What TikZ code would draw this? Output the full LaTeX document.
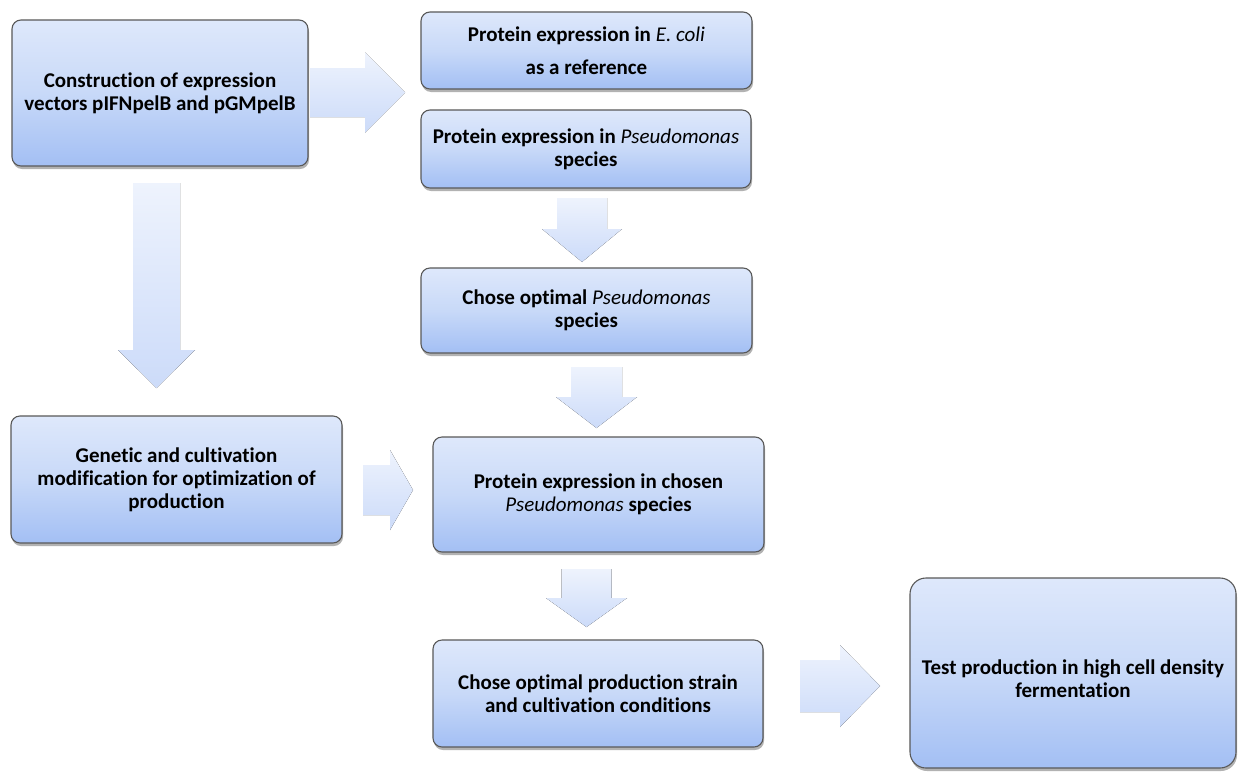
\documentclass[tikz,border=0pt]{standalone}
\usepackage{fontspec}
\setmainfont[Ligatures=NoCommon]{Carlito}
\usetikzlibrary{shadows,calc}
\definecolor{boxtop}{HTML}{DEE8FB}
\definecolor{boxmid}{HTML}{C8D9F8}
\definecolor{boxbot}{HTML}{A3BFF4}
\definecolor{arrtop}{HTML}{EEF3FD}
\definecolor{arrbot}{HTML}{CCDBF9}
\newcommand\spname[1]{{\mdseries\itshape #1}}
% down block arrow: x, ytop, ytip, bodyhalf, headhalf, headlen (pixel units, y downwards)
\newcommand\darrow[6]{%
  \fill[barrow] ({#1-#4},-#2) -- ({#1+#4},-#2) -- ({#1+#4},{-(#3-#6)}) -- ({#1+#5},{-(#3-#6)})
    -- (#1,-#3) -- ({#1-#5},{-(#3-#6)}) -- ({#1-#4},{-(#3-#6)}) -- cycle;}
% right block arrow: y, xleft, xtip, bodyhalf, headhalf, headlen
\newcommand\rarrow[6]{%
  \fill[barrow] (#2,{-#1+#4}) -- ({#3-#6},{-#1+#4}) -- ({#3-#6},{-#1+#5}) -- (#3,-#1)
    -- ({#3-#6},{-#1-#5}) -- ({#3-#6},{-#1-#4}) -- (#2,{-#1-#4}) -- cycle;}
\tikzset{
  boxtext/.style={align=center, inner sep=0pt,
    font=\fontsize{21}{23}\selectfont\bfseries},
  box/.style={boxtext, draw=black!65, line width=1.1pt, rounded corners=9pt,
    top color=boxtop, bottom color=boxbot, middle color=boxmid,
    drop shadow={shadow xshift=1pt, shadow yshift=-3pt, opacity=0.3, fill=black}},
  barrow/.style={top color=arrtop, bottom color=arrbot}
}
\begin{document}
\begin{tikzpicture}[x=1pt,y=1pt]
\fill[white] (0,0) rectangle (1242,-774);
\useasboundingbox (0,0) rectangle (1242,-774);

% block arrows
\rarrow{92.5}{310}{405}{24.5}{40}{40}
\darrow{582}{198}{262}{25}{40}{33}
\darrow{596.5}{367}{428}{25.5}{40.5}{31}
\darrow{156.5}{183}{388}{23.5}{38.5}{38}
\rarrow{490}{363}{413}{25}{40}{23}
\darrow{586.5}{569}{627}{25}{40.5}{29}
\rarrow{686}{800}{880}{26}{41}{40}

% boxes
\node[box, minimum width=296pt, minimum height=146pt] (A) at (160,-93)
  {Construction of expression\\vectors pIFNpelB and pGMpelB};
\node[box, minimum width=331pt, minimum height=77pt] (B1) at (586.5,-50.5)
  {Protein expression in \spname{E. coli}\\[10pt]as a reference};
\node[box, minimum width=330pt, minimum height=78pt] (B2) at (586,-149)
  {Protein expression in \spname{Pseudomonas}\\species};
\node[box, minimum width=331pt, minimum height=85pt] (C) at (586.5,-310.5)
  {Chose optimal \spname{Pseudomonas}\\species};
\node[box, minimum width=331pt, minimum height=115pt] (D) at (598.5,-494.5)
  {Protein expression in chosen\\\spname{Pseudomonas} species};
\node[box, minimum width=331pt, minimum height=127pt] (E) at (176.5,-479.5)
  {Genetic and cultivation\\modification for optimization of\\production};
\node[box, minimum width=330pt, minimum height=107pt] (F) at (598,-693.5)
  {Chose optimal production strain\\and cultivation conditions};
\node[box, minimum width=326pt, minimum height=190pt, rounded corners=16pt] (G) at (1073,-673) {};
\node[boxtext] (Gt) at ($(G.center)+(0,-6)$)
  {Test production in high cell density\\fermentation};
\end{tikzpicture}
\end{document}
